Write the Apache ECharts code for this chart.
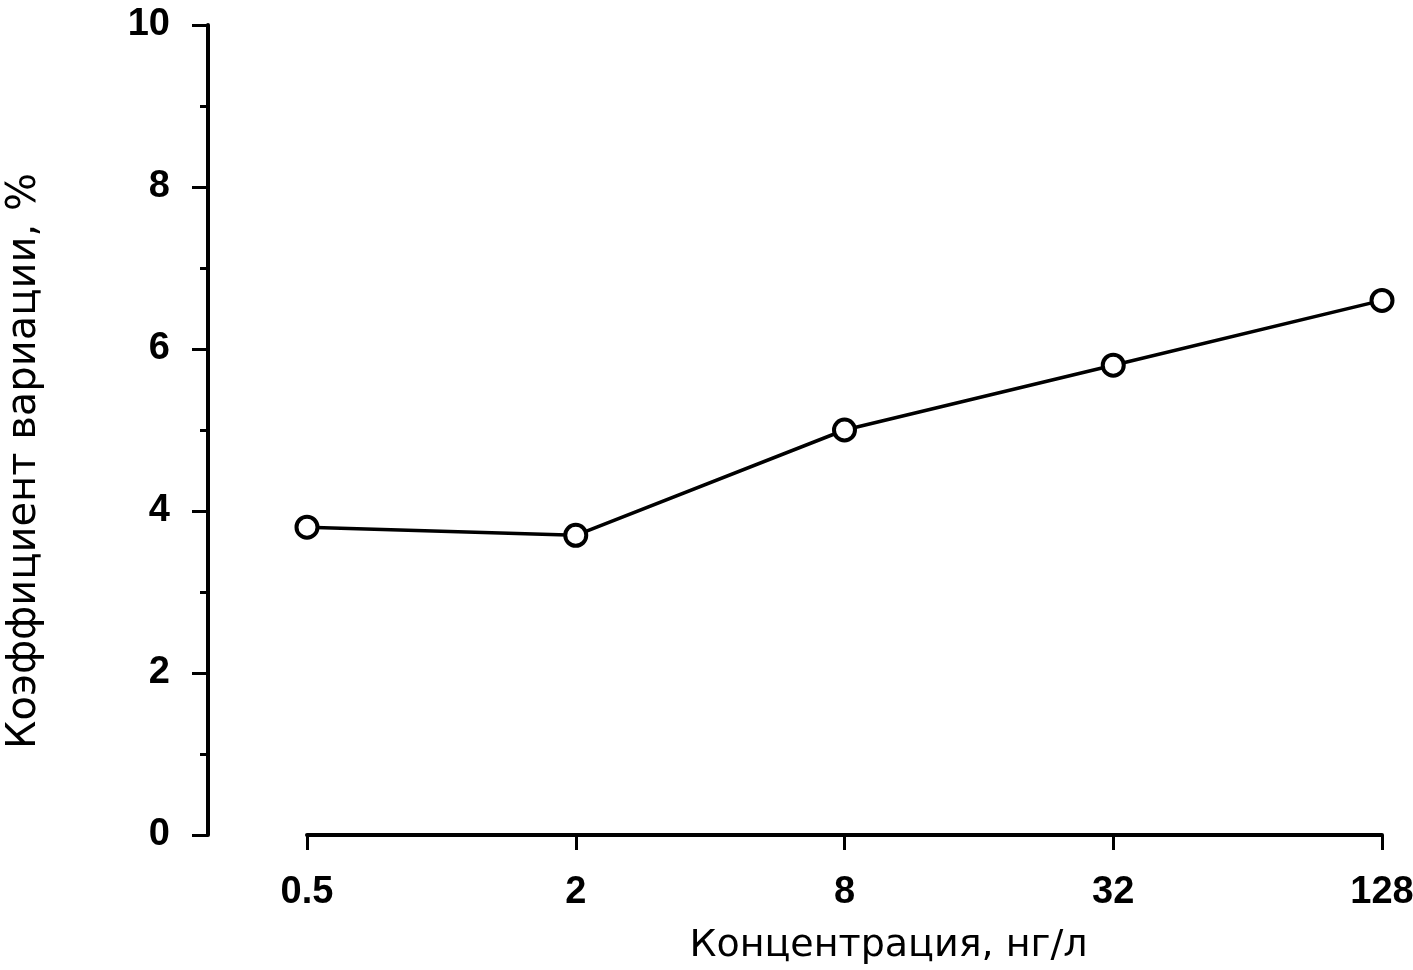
<!DOCTYPE html>
<html>
<head>
<meta charset="utf-8">
<script src="https://cdn.jsdelivr.net/npm/echarts@6/dist/echarts.min.js"></script>
<style>
html,body{margin:0;padding:0;background:#fff;}
#chart{width:1413px;height:970px;}
</style>
</head>
<body>
<div id="chart"></div>
<script>
const categories = ['0.5', '2', '8', '32', '128'];
const cvValues = [3.8, 3.7, 5.0, 5.8, 6.6];
const yTitle = 'Коэффициент вариации, %';
const xTitle = 'Концентрация, нг/л';

const chart = echarts.init(document.getElementById('chart'));
const fam = '"Liberation Sans", Arial, sans-serif';
const titleFam = '"DejaVu Sans", sans-serif';
chart.setOption({
  animation: false,
  backgroundColor: '#fff',
  grid: { left: 307, right: 31, top: 25, bottom: 135, containLabel: false, outerBoundsMode: 'none' },
  xAxis: {
    type: 'category',
    data: categories,
    boundaryGap: false,
    name: xTitle,
    nameLocation: 'middle',
    nameGap: 92,
    nameTextStyle: { fontFamily: titleFam, fontSize: 38, color: '#000', padding: [0, 0, 0, 88] },
    axisLine: { lineStyle: { color: '#000', width: 4 } },
    axisTick: { show: true, length: 15, lineStyle: { color: '#000', width: 3 } },
    axisLabel: { margin: 39, color: '#000', fontFamily: fam, fontSize: 38, fontWeight: 'bold' },
    splitLine: { show: false }
  },
  yAxis: {
    type: 'value',
    min: 0, max: 10, interval: 2,
    offset: 99,
    name: yTitle,
    nameLocation: 'middle',
    nameGap: 163,
    nameTextStyle: { fontFamily: titleFam, fontSize: 40, color: '#000', padding: [0, 62, 0, 0] },
    axisLine: { show: true, lineStyle: { color: '#000', width: 4 } },
    axisTick: { show: true, length: 16, lineStyle: { color: '#000', width: 3 } },
    minorTick: { show: true, splitNumber: 2, length: 8, lineStyle: { color: '#000', width: 3 } },
    axisLabel: { margin: 38, color: '#000', fontFamily: fam, fontSize: 38, fontWeight: 'bold' },
    splitLine: { show: false },
    minorSplitLine: { show: false }
  },
  series: [{
    type: 'line',
    data: cvValues,
    symbol: 'circle',
    symbolSize: 21,
    lineStyle: { color: '#000', width: 3.5 },
    itemStyle: { color: '#fff', borderColor: '#000', borderWidth: 4 },
    z: 3
  }]
});
</script>
</body>
</html>
